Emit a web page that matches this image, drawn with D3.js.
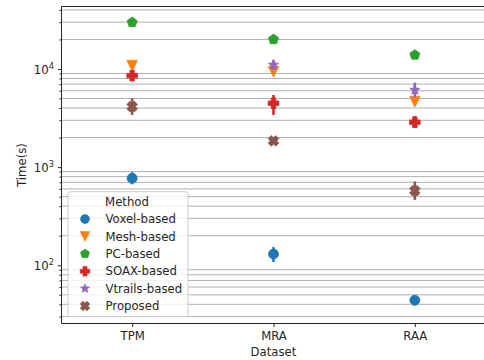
<!DOCTYPE html>
<html>
<head>
<meta charset="utf-8">
<script src="https://cdn.jsdelivr.net/npm/d3@7"></script>
<style>
  body { margin: 0; background: #fff; }
  svg text { font-family: "DejaVu Sans", sans-serif; fill: #262626; }
</style>
</head>
<body>
<div class="canvas"></div>
<script>
// data
const categories = ['TPM', 'MRA', 'RAA'];
const methods = ['Voxel-based', 'Mesh-based', 'PC-based', 'SOAX-based', 'Vtrails-based', 'Proposed'];
const colors = ['#1f77b4', '#ff7f0e', '#2ca02c', '#d62728', '#9467bd', '#8c564b'];
const markers = ['circle', 'triangleDown', 'pentagon', 'plus', 'star', 'xFilled'];

const voxel = [770, 130, 44];
const voxelLo = [668, 108, 39];
const voxelHi = [885, 153, 49];
const mesh = [10800, 9400, 4640];
const meshLo = [10100, 8700, 4250];
const meshHi = [11800, 10100, 5000];
const pc = [29900, 20000, 13900];
const pcLo = [28800, 19300, 13400];
const pcHi = [31000, 20700, 14400];
const soax = [8550, 4480, 2870];
const soaxLo = [7600, 3400, 2500];
const soaxHi = [9650, 5430, 3300];
const vtrails = [null, 11000, 6100];
const vtrailsLo = [null, 9770, 5100];
const vtrailsHi = [null, 12360, 7250];
const proposed = [4140, 1850, 574];
const proposedLo = [3400, 1720, 464];
const proposedHi = [5030, 1990, 713];

const series = [
  [voxel, voxelLo, voxelHi],
  [mesh, meshLo, meshHi],
  [pc, pcLo, pcHi],
  [soax, soaxLo, soaxHi],
  [vtrails, vtrailsLo, vtrailsHi],
  [proposed, proposedLo, proposedHi]
];

const svgWidth = 484;
const svgHeight = 360;
const margin = { top: 6.5, left: 61.5, bottom: 323.5, right: 485.5 };
const fontSize = 11.7;

const svg = d3.select('.canvas').append('svg')
  .attr('width', svgWidth)
  .attr('height', svgHeight);

const xScale = d3.scalePoint().domain(categories).range([margin.left, margin.right]).padding(0.5);
const yScale = d3.scaleLog().domain([25.5, 43300]).range([margin.bottom, margin.top]);

// marker shapes, r = half extent
function markerPath(kind, r) {
  const p = d3.path();
  const poly = (pts) => {
    pts.forEach((pt, i) => (i ? p.lineTo(pt[0], pt[1]) : p.moveTo(pt[0], pt[1])));
    p.closePath();
  };
  if (kind === 'circle') {
    p.arc(0, 0, r, 0, 2 * Math.PI);
  } else if (kind === 'triangleDown') {
    poly([[-r, -r], [r, -r], [0, r]]);
  } else if (kind === 'pentagon') {
    poly(d3.range(5).map((i) => {
      const a = -Math.PI / 2 + i * 2 * Math.PI / 5;
      return [r * Math.cos(a), r * Math.sin(a)];
    }));
  } else if (kind === 'star') {
    poly(d3.range(10).map((i) => {
      const a = -Math.PI / 2 + i * Math.PI / 5;
      const rr = i % 2 ? r * 0.45 : r;
      return [rr * Math.cos(a), rr * Math.sin(a)];
    }));
  } else if (kind === 'plus' || kind === 'xFilled') {
    const w = r * 0.42;
    let pts = [[-w, -r], [w, -r], [w, -w], [r, -w], [r, w], [w, w], [w, r], [-w, r], [-w, w], [-r, w], [-r, -w], [-w, -w]];
    if (kind === 'xFilled') {
      const c = Math.SQRT1_2;
      pts = pts.map(([x, y]) => [(x - y) * c, (x + y) * c]);
    }
    poly(pts);
  }
  return p.toString();
}

// minor grid lines
const allTicks = yScale.ticks();
const majorTicks = allTicks.filter((d) => Math.abs(Math.log10(d) - Math.round(Math.log10(d))) < 1e-9);
const minorTicks = allTicks.filter((d) => !majorTicks.includes(d));

svg.append('g').selectAll('line').data(minorTicks).enter().append('line')
  .attr('x1', margin.left).attr('x2', svgWidth)
  .attr('y1', (d) => yScale(d)).attr('y2', (d) => yScale(d))
  .attr('stroke', '#b0b0b0').attr('stroke-width', 1);

// error bars and markers
series.forEach(([vals, lo, hi], m) => {
  const g = svg.append('g');
  categories.forEach((c, i) => {
    if (vals[i] == null) return;
    g.append('line')
      .attr('x1', xScale(c)).attr('x2', xScale(c))
      .attr('y1', yScale(lo[i])).attr('y2', yScale(hi[i]))
      .attr('stroke', colors[m]).attr('stroke-width', 2.6);
    g.append('path')
      .attr('d', markerPath(markers[m], markers[m] === 'circle' ? 5 : 5.3))
      .attr('transform', `translate(${xScale(c)},${yScale(vals[i])})`)
      .attr('fill', colors[m])
      .attr('stroke', colors[m]).attr('stroke-width', 0.8);
  });
});

// spines
svg.append('path')
  .attr('d', `M${margin.right},${margin.top}H${margin.left}V${margin.bottom}H${margin.right}`)
  .attr('fill', 'none').attr('stroke', '#262626').attr('stroke-width', 1);

// x axis
const xAxisGroup = svg.append('g').attr('transform', `translate(0,${margin.bottom})`)
  .call(d3.axisBottom(xScale).tickSize(3.6).tickPadding(4.5));
xAxisGroup.select('.domain').remove();
xAxisGroup.selectAll('line').attr('stroke', '#262626');
xAxisGroup.selectAll('text').attr('font-size', fontSize).attr('font-family', 'DejaVu Sans').attr('fill', '#262626');

// y axis, minor ticks
const yMinor = svg.append('g').attr('transform', `translate(${margin.left},0)`)
  .call(d3.axisLeft(yScale).tickValues(minorTicks).tickSize(2).tickFormat(''));
yMinor.select('.domain').remove();
yMinor.selectAll('line').attr('stroke', '#262626');

// y axis, major ticks with 10^n labels
const yMajor = svg.append('g').attr('transform', `translate(${margin.left},0)`)
  .call(d3.axisLeft(yScale).tickValues(majorTicks).tickSize(3.6).tickPadding(4));
yMajor.select('.domain').remove();
yMajor.selectAll('line').attr('stroke', '#262626');
yMajor.selectAll('text')
  .attr('font-size', fontSize).attr('font-family', 'DejaVu Sans').attr('fill', '#262626')
  .attr('dy', '0.36em')
  .text(null)
  .each(function (d) {
    const t = d3.select(this);
    t.append('tspan').text('10');
    t.append('tspan').text(Math.round(Math.log10(d)))
      .attr('font-size', fontSize * 0.7).attr('dy', '-0.55em');
  });

// axis labels
svg.append('text')
  .attr('x', (margin.left + margin.right) / 2).attr('y', 356)
  .attr('text-anchor', 'middle').attr('font-size', fontSize)
  .text('Dataset');
svg.append('text')
  .attr('transform', `translate(26,${(margin.top + margin.bottom) / 2}) rotate(-90)`)
  .attr('text-anchor', 'middle').attr('font-size', fontSize)
  .text('Time(s)');

// legend
const legend = svg.append('g');
legend.append('rect')
  .attr('x', 68).attr('y', 191.7).attr('width', 120).attr('height', 125)
  .attr('rx', 2.5)
  .attr('fill', '#fff').attr('fill-opacity', 0.8)
  .attr('stroke', '#cccccc').attr('stroke-width', 1);
legend.append('text')
  .attr('x', 127).attr('y', 205.5).attr('text-anchor', 'middle').attr('font-size', fontSize)
  .text('Method');
methods.forEach((name, m) => {
  const cy = 219 + m * 17.4;
  legend.append('path')
    .attr('d', markerPath(markers[m], markers[m] === 'circle' ? 4.5 : 4.8))
    .attr('transform', `translate(85,${cy})`)
    .attr('fill', colors[m]).attr('stroke', colors[m]).attr('stroke-width', 0.6);
  legend.append('text')
    .attr('x', 105.5).attr('y', cy).attr('dy', '0.36em').attr('font-size', fontSize)
    .text(name);
});
</script>
</body>
</html>
